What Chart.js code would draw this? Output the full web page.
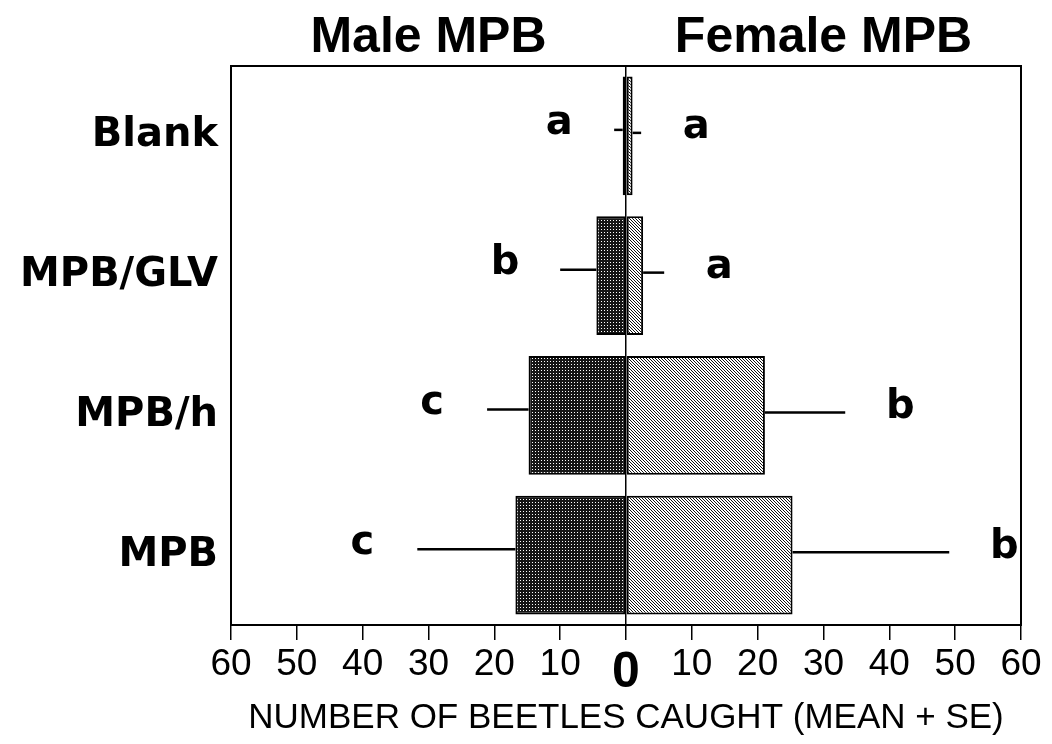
<!DOCTYPE html>
<html>
<head>
<meta charset="utf-8">
<script src="https://cdn.jsdelivr.net/npm/chart.js@4.4.1/dist/chart.umd.min.js"></script>
<style>
body { margin: 0; background: #fff; }
</style>
</head>
<body>
<canvas id="myChart" width="1052" height="744"></canvas>
<script>
var categories = ['Blank', 'MPB/GLV', 'MPB/h', 'MPB'];
var maleMeans = [0.5, 4.5, 14.8, 16.8];
var maleSE = [1.3, 5.5, 6.3, 14.9];
var femaleMeans = [1.0, 2.6, 21.1, 25.3];
var femaleSE = [1.3, 3.2, 12.2, 23.8];
var maleLetters = ['a', 'b', 'c', 'c'];
var femaleLetters = ['a', 'a', 'b', 'b'];
var sideTitles = ['Male MPB', 'Female MPB'];
var xTitle = 'NUMBER OF BEETLES CAUGHT (MEAN + SE)';

// stipple for male, diagonal hatch for female
function dotPattern() {
    var c = document.createElement('canvas');
    c.width = 3; c.height = 3;
    var g = c.getContext('2d');
    g.fillStyle = '#161616';
    g.fillRect(0, 0, 3, 3);
    g.fillStyle = '#ffffff';
    g.fillRect(1, 1, 1, 1);
    return g.createPattern(c, 'repeat');
}
function hatchPattern() {
    var c = document.createElement('canvas');
    c.width = 3; c.height = 3;
    var g = c.getContext('2d');
    g.fillStyle = '#ffffff';
    g.fillRect(0, 0, 3, 3);
    g.fillStyle = '#111111';
    for (var i = 0; i < 3; i++) {
        g.fillRect(i, i, 1, 1);
    }
    return g.createPattern(c, 'repeat');
}

const extras = {
    id: 'extras',
    afterDatasetsDraw(chart) {
        const ctx = chart.ctx;
        const xs = chart.scales.x, ys = chart.scales.y;
        const a = chart.chartArea;
        ctx.save();
        // frame
        ctx.strokeStyle = '#000';
        ctx.lineWidth = 2;
        ctx.strokeRect(a.left, a.top, a.right - a.left, a.bottom - a.top);
        // error bars + letters
        ctx.lineWidth = 2.5;
        ctx.fillStyle = '#000';
        ctx.font = 'bold 40px "DejaVu Sans"';
        ctx.textAlign = 'center';
        ctx.textBaseline = 'middle';
        for (var i = 0; i < categories.length; i++) {
            var yc = ys.getPixelForValue(i);
            var m0 = xs.getPixelForValue(-maleMeans[i]);
            var m1 = xs.getPixelForValue(-(maleMeans[i] + maleSE[i]));
            ctx.beginPath();
            ctx.moveTo(m0, yc - 6);
            ctx.lineTo(m1, yc - 6);
            ctx.stroke();
            var f0 = xs.getPixelForValue(femaleMeans[i]);
            var f1 = xs.getPixelForValue(femaleMeans[i] + femaleSE[i]);
            ctx.beginPath();
            ctx.moveTo(f0, yc - 3);
            ctx.lineTo(f1, yc - 3);
            ctx.stroke();
            ctx.fillText(maleLetters[i], m1 - 55, yc - 12);
            ctx.fillText(femaleLetters[i], f1 + 55, yc - 8);
        }
        // side titles
        ctx.font = 'bold 50px "Liberation Sans"';
        ctx.textBaseline = 'alphabetic';
        ctx.fillText(sideTitles[0], xs.getPixelForValue(-30), 52);
        ctx.fillText(sideTitles[1], xs.getPixelForValue(30), 52);
        ctx.restore();
    }
};

const ctx = document.getElementById('myChart').getContext('2d');
const myChart = new Chart(ctx, {
    type: 'bar',
    data: {
        labels: categories,
        datasets: [{
            label: 'Male MPB',
            data: maleMeans.map(function (v) { return -v; }),
            backgroundColor: dotPattern(),
            borderColor: '#000',
            borderWidth: 2,
            borderSkipped: false,
            categoryPercentage: 1,
            barPercentage: 0.85
        }, {
            label: 'Female MPB',
            data: femaleMeans,
            backgroundColor: hatchPattern(),
            borderColor: '#000',
            borderWidth: 2,
            borderSkipped: false,
            categoryPercentage: 1,
            barPercentage: 0.85
        }]
    },
    options: {
        indexAxis: 'y',
        responsive: false,
        animation: false,
        layout: { padding: { top: 66, right: 31, left: 0, bottom: 0 } },
        plugins: {
            legend: { display: false },
            tooltip: { enabled: false }
        },
        scales: {
            x: {
                stacked: true,
                min: -60,
                max: 60,
                afterFit: function (scale) { scale.height = 119; },
                ticks: {
                    stepSize: 10,
                    color: '#000',
                    padding: 3,
                    maxRotation: 0,
                    callback: function (v) { return Math.abs(v); },
                    font: function (c) {
                        if (c.tick && c.tick.value === 0) {
                            return { family: 'Liberation Sans', size: 50, weight: 'bold' };
                        }
                        return { family: 'Liberation Sans', size: 37 };
                    }
                },
                grid: {
                    drawOnChartArea: true,
                    color: function (c) { return c.tick && c.tick.value === 0 ? '#000' : 'rgba(0,0,0,0)'; },
                    tickColor: '#000',
                    tickLength: 15,
                    lineWidth: 1.5
                },
                border: { display: true, color: '#000', width: 2 },
                title: {
                    display: true,
                    text: xTitle,
                    color: '#000',
                    font: { family: 'Liberation Sans', size: 35 },
                    padding: { top: 0, bottom: 5 }
                }
            },
            y: {
                stacked: true,
                afterFit: function (scale) { scale.width = 231; },
                grid: { display: false, drawTicks: false },
                border: { display: true, color: '#000', width: 2 },
                ticks: {
                    color: '#000',
                    padding: 13,
                    font: { family: 'DejaVu Sans', size: 40, weight: 'bold' }
                }
            }
        }
    },
    plugins: [extras]
});
</script>
</body>
</html>
